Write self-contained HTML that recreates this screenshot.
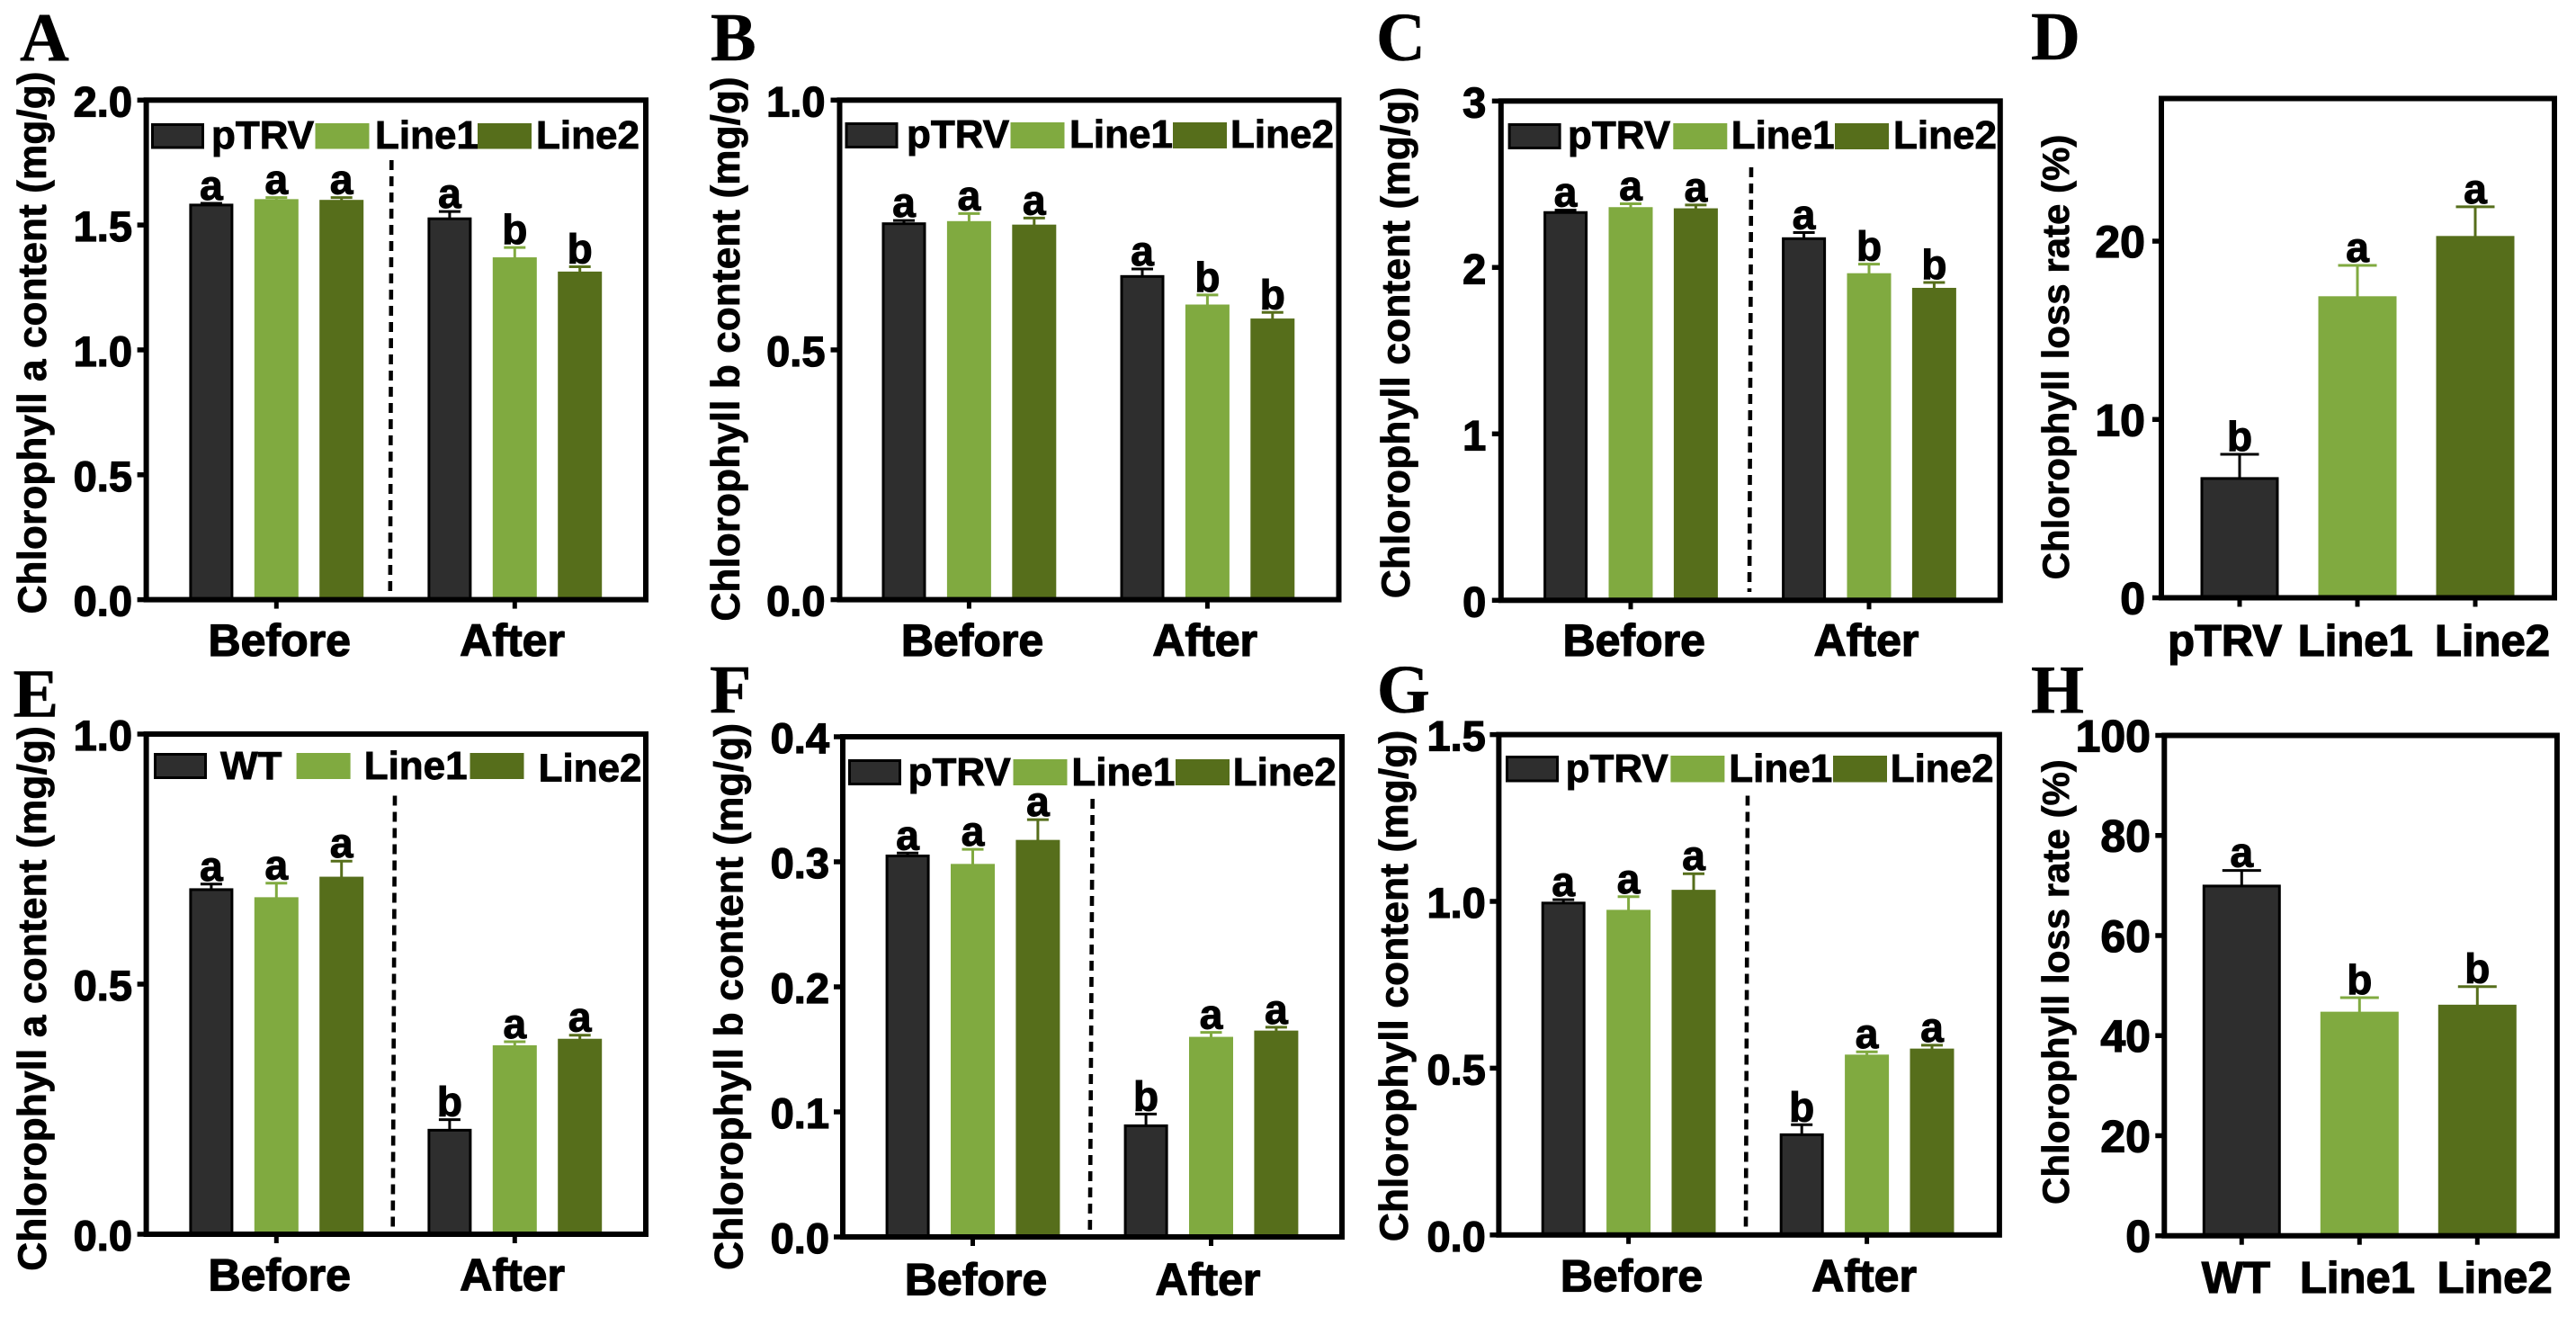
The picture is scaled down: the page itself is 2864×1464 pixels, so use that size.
<!DOCTYPE html>
<html lang="en">
<head>
<meta charset="utf-8">
<title>Chlorophyll content panels</title>
<style>
html,body{margin:0;padding:0;background:#fff;}
body{width:2864px;height:1464px;overflow:hidden;}
svg{display:block;}
text{font-family:"Liberation Sans",Arial,sans-serif;font-weight:700;fill:#000;stroke:#000;stroke-width:.9px;}
text.tick-text{stroke-width:1.3px;}
text.axis-title{stroke-width:.7px;}
text.sig-text{stroke-width:1.1px;}
text.panel-letter{font-family:"Liberation Serif","Times New Roman",serif;stroke-width:.4px;}
</style>
</head>
<body>
<svg id="figure" xmlns="http://www.w3.org/2000/svg" width="2864" height="1464" viewBox="0 0 2864 1464"></svg>
<script>
const groupNames = ['Before', 'After'];
const seriesPTRV = ['pTRV', 'Line1', 'Line2'];
const seriesWT = ['WT', 'Line1', 'Line2'];

const valuesA = [1.58, 1.60, 1.597, 1.525, 1.367, 1.31];
const errorsA = [0.007, 0.01, 0.013, 0.029, 0.043, 0.023];
const lettersA = ['a', 'a', 'a', 'a', 'b', 'b'];
const ticksA = [0, 0.5, 1, 1.5, 2];
const tickLabelsA = ['0.0', '0.5', '1.0', '1.5', '2.0'];

const valuesB = [0.7526, 0.756, 0.749, 0.647, 0.589, 0.561];
const errorsB = [0.0064, 0.017, 0.015, 0.015, 0.021, 0.014];
const lettersB = ['a', 'a', 'a', 'a', 'b', 'b'];
const ticksB = [0, 0.5, 1];
const tickLabelsB = ['0.0', '0.5', '1.0'];

const valuesC = [2.33, 2.357, 2.35, 2.173, 1.96, 1.872];
const errorsC = [0.014, 0.026, 0.025, 0.037, 0.06, 0.038];
const lettersC = ['a', 'a', 'a', 'a', 'b', 'b'];
const ticksC = [0, 1, 2, 3];
const tickLabelsC = ['0', '1', '2', '3'];

const valuesD = [6.69, 16.86, 20.24];
const errorsD = [1.36, 1.78, 1.69];
const lettersD = ['b', 'a', 'a'];
const ticksD = [0, 10, 20];
const tickLabelsD = ['0', '10', '20'];

const valuesE = [0.689, 0.672, 0.713, 0.208, 0.376, 0.389];
const errorsE = [0.011, 0.03, 0.033, 0.021, 0.009, 0.009];
const lettersE = ['a', 'a', 'a', 'b', 'a', 'a'];
const ticksE = [0, 0.5, 1];
const tickLabelsE = ['0.0', '0.5', '1.0'];

const valuesF = [0.3047, 0.2976, 0.3168, 0.0889, 0.1593, 0.1643];
const errorsF = [0.0023, 0.0124, 0.0169, 0.0094, 0.0043, 0.0034];
const lettersF = ['a', 'a', 'a', 'b', 'a', 'a'];
const ticksF = [0, 0.1, 0.2, 0.3, 0.4];
const tickLabelsF = ['0.0', '0.1', '0.2', '0.3', '0.4'];

const valuesG = [0.995, 0.972, 1.032, 0.3005, 0.538, 0.556];
const errorsG = [0.01, 0.042, 0.051, 0.03, 0.011, 0.013];
const lettersG = ['a', 'a', 'a', 'b', 'a', 'a'];
const ticksG = [0, 0.5, 1, 1.5];
const tickLabelsG = ['0.0', '0.5', '1.0', '1.5'];

const valuesH = [69.9, 44.6, 46.0];
const errorsH = [3.1, 3.0, 3.8];
const lettersH = ['a', 'b', 'b'];
const ticksH = [0, 20, 40, 60, 80, 100];
const tickLabelsH = ['0', '20', '40', '60', '80', '100'];

const seriesColors = ['#2e2e2e', '#80aa40', '#566e1b'];
const errorColors = ['#000000', '#80aa40', '#566e1b'];

const svg = document.getElementById('figure');
const NS = 'http://www.w3.org/2000/svg';

function make(tag, attrs, parent, content) {
  const node = document.createElementNS(NS, tag);
  for (const key in attrs) node.setAttribute(key, attrs[key]);
  if (content !== undefined) node.textContent = content;
  parent.appendChild(node);
  return node;
}

function drawPanel(p) {
  const g = make('g', {}, svg);
  
  

  const yScale = v => p.bottom - (v / p.max) * (p.bottom - p.top);
  const xGrouped = i => p.x0 + Math.floor(i / 3) * p.groupStep + (i % 3 - 1) * p.memberStep;
  const xSingle = i => p.x0 + i * p.memberStep;
  const xScale = p.categories ? xSingle : xGrouped;

  const letter = make('text', {x: p.letterX, y: p.letterY + 1, 'font-size': 76, class: 'panel-letter'}, g, p.id);
  
  

  p.values.forEach((v, i) => {
    const s = i % 3;
    const cx = xScale(i);
    const y = yScale(v);
    const capY = yScale(v + p.errors[i]);

    const stem = make('line', {x1: cx, x2: cx, y1: y, y2: capY, stroke: errorColors[s], 'stroke-width': 3}, g);
    
    

    const cap = make('line', {x1: cx - p.capW / 2, x2: cx + p.capW / 2, y1: capY, y2: capY, stroke: errorColors[s], 'stroke-width': 3}, g);
    
    

    const attrs = s === 0
      ? {x: cx - p.barW / 2 + 1.5, y: y, width: p.barW - 3, height: p.bottom - y, fill: seriesColors[0], stroke: '#000', 'stroke-width': 3}
      : {x: cx - p.barW / 2, y: y - 1, width: p.barW, height: p.bottom - y + 1, fill: seriesColors[s]};
    const bar = make('rect', attrs, g);
    
    

    const sig = make('text', {x: cx, y: capY - 4, 'font-size': 46, 'text-anchor': 'middle', class: 'sig-text'}, g, p.letters[i]);
    
    
  });

  const frame = make('rect', {x: p.left, y: p.top, width: p.right - p.left, height: p.bottom - p.top, fill: 'none', stroke: '#000', 'stroke-width': 6}, g);
  
  

  p.ticks.forEach((t, i) => {
    const y = yScale(t);
    const tick = make('line', {x1: p.left - 10, x2: p.left, y1: y, y2: y, stroke: '#000', 'stroke-width': 5.5}, g);
    
    
    const label = make('text', {x: p.tickRight, y: y + 18, 'font-size': p.tickFont, 'text-anchor': 'end', class: 'tick-text'}, g, p.tickLabels[i]);
    
    
  });

  const xTickCenters = p.categories ? p.values.map((v, i) => xSingle(i)) : groupNames.map((n, i) => p.x0 + i * p.groupStep);
  const xNames = p.categories || groupNames;
  xTickCenters.forEach((cx, i) => {
    const tick = make('line', {x1: cx, x2: cx, y1: p.bottom, y2: p.bottom + 10, stroke: '#000', 'stroke-width': 5}, g);
    
    
    const label = make('text', {x: p.xLabelX[i], y: p.xLabelY, 'font-size': p.categories ? 49 : 50, 'text-anchor': 'middle', class: 'tick-text'}, g, xNames[i]);
    
    
  });

  const title = make('text', {
    x: 0, y: 0, 'font-size': p.titleFont, 'text-anchor': 'middle', class: 'axis-title',
    transform: 'translate(' + p.titleX + ' ' + p.titleY + ') rotate(-90)'
  }, g, p.title);
  
  

  if (p.dash) {
    const dash = make('line', {x1: p.dash[0], y1: p.dash[1], x2: p.dash[2], y2: p.dash[3], stroke: '#000', 'stroke-width': 4.6, 'stroke-dasharray': '11 7'}, g);
    
    
  }

  if (p.legend) {
    p.series.forEach((name, i) => {
      const w = 59;
      const sa = i === 0
        ? {x: p.legend.swatchX[i] + 1.5, y: p.legend.top + 1.5, width: w - 3, height: p.legend.h - 3, fill: seriesColors[0], stroke: '#000', 'stroke-width': 3}
        : {x: p.legend.swatchX[i], y: p.legend.top, width: w + 1, height: p.legend.h, fill: seriesColors[i]};
      const swatch = make('rect', sa, g);
      
      
      const txt = make('text', {x: p.legend.textX[i], y: p.legend.base[i], 'font-size': 44}, g, name);
      
      
    });
  }
}

drawPanel({
  id: 'A', values: valuesA, errors: errorsA, letters: lettersA, ticks: ticksA, tickLabels: tickLabelsA, series: seriesPTRV,
  max: 2, left: 162.6, right: 718, top: 111.3, bottom: 666.6,
  x0: 307.3, groupStep: 265, memberStep: 72.4, barW: 49, capW: 24,
  tickRight: 147, tickFont: 47, xLabelX: [310.7, 569.6], xLabelY: 729,
  title: 'Chlorophyll a content (mg/g)', titleX: 51, titleY: 381, titleFont: 44.3,
  letterX: 22, letterY: 66, dash: [435.3, 178, 433.8, 662],
  legend: {swatchX: [168, 350.5, 531], textX: [235, 417, 596], top: 137, h: 28.5, base: [165, 165, 165]}
});
drawPanel({
  id: 'B', values: valuesB, errors: errorsB, letters: lettersB, ticks: ticksB, tickLabels: tickLabelsB, series: seriesPTRV,
  max: 1, left: 933.5, right: 1488.5, top: 111.3, bottom: 666.6,
  x0: 1077.4, groupStep: 265, memberStep: 72.4, barW: 49, capW: 24,
  tickRight: 917.5, tickFont: 47, xLabelX: [1081, 1339.7], xLabelY: 729,
  title: 'Chlorophyll b content (mg/g)', titleX: 822, titleY: 388, titleFont: 44.3,
  letterX: 790, letterY: 66,
  legend: {swatchX: [939.5, 1123.5, 1304], textX: [1008, 1189, 1368], top: 136, h: 29, base: [164, 164, 164]}
});
drawPanel({
  id: 'C', values: valuesC, errors: errorsC, letters: lettersC, ticks: ticksC, tickLabels: tickLabelsC, series: seriesPTRV,
  max: 3, left: 1668.8, right: 2223.8, top: 112.3, bottom: 667.3,
  x0: 1813, groupStep: 265, memberStep: 72.4, barW: 49, capW: 24,
  tickRight: 1652.3, tickFont: 47, xLabelX: [1816.7, 2075], xLabelY: 729,
  title: 'Chlorophyll content (mg/g)', titleX: 1567, titleY: 381, titleFont: 44.5,
  letterX: 1530, letterY: 66, dash: [1947, 186, 1945, 658],
  legend: {swatchX: [1676.6, 1860.3, 2040], textX: [1743, 1924.7, 2105], top: 137, h: 29, base: [165, 165, 165]}
});
drawPanel({
  id: 'D', values: valuesD, errors: errorsD, letters: lettersD, ticks: ticksD, tickLabels: tickLabelsD, categories: seriesPTRV,
  max: 28, left: 2403, right: 2840, top: 109.5, bottom: 664.5,
  x0: 2490, groupStep: 0, memberStep: 131, barW: 87, capW: 43,
  tickRight: 2385, tickFont: 50, xLabelX: [2473.6, 2618.8, 2771], xLabelY: 729,
  title: 'Chlorophyll loss rate (%)', titleX: 2300, titleY: 397, titleFont: 42,
  letterX: 2258, letterY: 65
});
drawPanel({
  id: 'E', values: valuesE, errors: errorsE, letters: lettersE, ticks: ticksE, tickLabels: tickLabelsE, series: seriesWT,
  max: 1, left: 162.6, right: 718, top: 816, bottom: 1372,
  x0: 307.3, groupStep: 265, memberStep: 72.4, barW: 49, capW: 24,
  tickRight: 147, tickFont: 47, xLabelX: [310.7, 569.6], xLabelY: 1434.6,
  title: 'Chlorophyll a content (mg/g)', titleX: 51, titleY: 1110, titleFont: 44.5,
  letterX: 14.5, letterY: 795.5, dash: [439, 884.5, 436.7, 1367.6],
  legend: {swatchX: [171, 329.6, 522.5], textX: [245, 404.7, 598.6], top: 837, h: 29, base: [865.8, 865.8, 868.6]}
});
drawPanel({
  id: 'F', values: valuesF, errors: errorsF, letters: lettersF, ticks: ticksF, tickLabels: tickLabelsF, series: seriesPTRV,
  max: 0.4, left: 937, right: 1492, top: 819, bottom: 1375,
  x0: 1081.5, groupStep: 265, memberStep: 72.4, barW: 49, capW: 24,
  tickRight: 922, tickFont: 47, xLabelX: [1085, 1343], xLabelY: 1439.3,
  title: 'Chlorophyll b content (mg/g)', titleX: 825.4, titleY: 1108, titleFont: 44.5,
  letterX: 789, letterY: 791, dash: [1214.7, 888, 1211.8, 1371],
  legend: {swatchX: [943, 1126.5, 1307], textX: [1009.6, 1191.4, 1370.8], top: 844, h: 29, base: [872.8, 872.8, 872.8]}
});
drawPanel({
  id: 'G', values: valuesG, errors: errorsG, letters: lettersG, ticks: ticksG, tickLabels: tickLabelsG, series: seriesPTRV,
  max: 1.5, left: 1666.4, right: 2222.9, top: 816.6, bottom: 1372.8,
  x0: 1810.6, groupStep: 265, memberStep: 72.4, barW: 49, capW: 24,
  tickRight: 1651.8, tickFont: 47, xLabelX: [1814, 2072.6], xLabelY: 1435.5,
  title: 'Chlorophyll content (mg/g)', titleX: 1565, titleY: 1096, titleFont: 44.5,
  letterX: 1530.7, letterY: 791, dash: [1943, 884.5, 1941, 1367.6],
  legend: {swatchX: [1674, 1857.4, 2038], textX: [1740.6, 1922.3, 2101.7], top: 840, h: 29.5, base: [869, 869, 869]}
});
drawPanel({
  id: 'H', values: valuesH, errors: errorsH, letters: lettersH, ticks: ticksH, tickLabels: tickLabelsH, categories: seriesWT,
  max: 100, left: 2406.3, right: 2842.9, top: 817.5, bottom: 1373.7,
  x0: 2492.3, groupStep: 0, memberStep: 131, barW: 87, capW: 43,
  tickRight: 2391, tickFont: 50, xLabelX: [2486, 2621, 2773.6], xLabelY: 1437,
  title: 'Chlorophyll loss rate (%)', titleX: 2300, titleY: 1091.6, titleFont: 42,
  letterX: 2258, letterY: 791
});
</script>
</body>
</html>
